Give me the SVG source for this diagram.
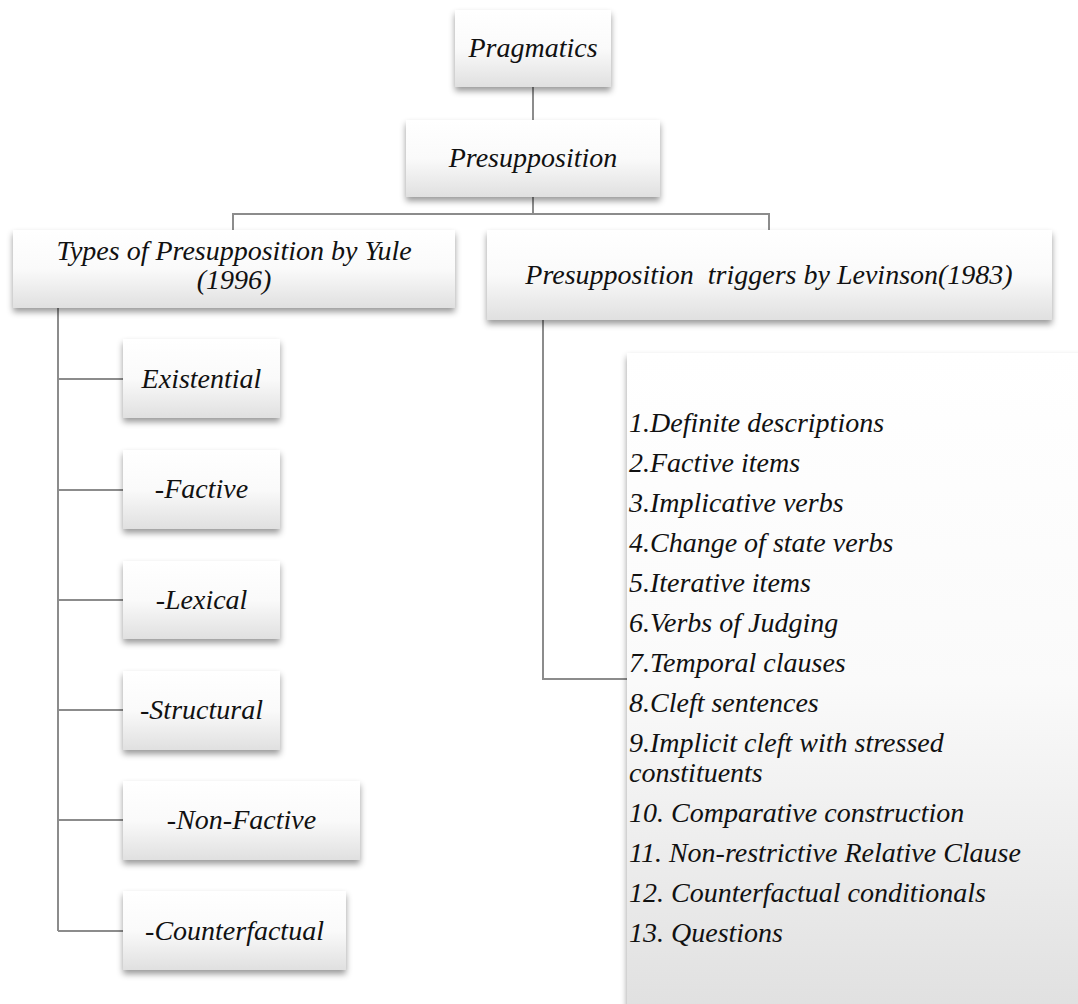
<svg xmlns="http://www.w3.org/2000/svg" width="1078" height="1004" viewBox="0 0 1078 1004">
<style>
  .box { fill: url(#g); filter: url(#sh); }
  .conn { fill: none; stroke: #8c8c8c; stroke-width: 2; }
  .t { font-family: 'Liberation Serif', 'Times New Roman', serif; font-style: italic; font-size: 28px; fill: #111; }
  .c { text-anchor: middle; }
</style>
<defs>
  <linearGradient id="g" x1="0" y1="0" x2="0" y2="1">
    <stop offset="0" stop-color="#ffffff"/>
    <stop offset="0.5" stop-color="#fafafa"/>
    <stop offset="1" stop-color="#e0e0e0"/>
  </linearGradient>
  <filter id="sh" x="-10%" y="-10%" width="120%" height="130%">
    <feDropShadow dx="0" dy="4" stdDeviation="3" flood-color="#000" flood-opacity="0.4"/>
  </filter>
</defs>
<rect width="1078" height="1004" fill="#fff"/>

<g id="connectors">
  <path class="conn" d="M533 87 V120"/>
  <path class="conn" d="M533 197 V214 M233 230 V214 H769 V230"/>
  <path class="conn" d="M58 308 V931 M58 379 H123 M58 490 H123 M58 600 H123 M58 710 H123 M58 820 H123 M58 931 H123"/>
  <path class="conn" d="M543 320 V679 H627"/>
</g>

<g id="pragmatics">
  <rect class="box" x="455" y="10" width="156" height="77"/>
  <text class="t c" x="533" y="57">Pragmatics</text>
</g>
<g id="presupposition">
  <rect class="box" x="406" y="120" width="254" height="77"/>
  <text class="t c" x="533" y="167">Presupposition</text>
</g>
<g id="types-yule">
  <rect class="box" x="13" y="230" width="442" height="78"/>
  <text class="t c" x="234" y="260">Types of Presupposition by Yule</text>
  <text class="t c" x="234" y="289">(1996)</text>
</g>
<g id="triggers-levinson">
  <rect class="box" x="487" y="230" width="565" height="90"/>
  <text class="t c" x="769" y="284" style="white-space:pre">Presupposition  triggers by Levinson(1983)</text>
</g>

<g id="existential">
  <rect class="box" x="123" y="339" width="157" height="79"/>
  <text class="t c" x="201.5" y="388">Existential</text>
</g>
<g id="factive">
  <rect class="box" x="123" y="450" width="157" height="79"/>
  <text class="t c" x="201.5" y="498">-Factive</text>
</g>
<g id="lexical">
  <rect class="box" x="123" y="561" width="157" height="78"/>
  <text class="t c" x="201.5" y="609">-Lexical</text>
</g>
<g id="structural">
  <rect class="box" x="123" y="671" width="157" height="79"/>
  <text class="t c" x="201.5" y="719">-Structural</text>
</g>
<g id="non-factive">
  <rect class="box" x="123" y="781" width="237" height="79"/>
  <text class="t c" x="241.5" y="829">-Non-Factive</text>
</g>
<g id="counterfactual">
  <rect class="box" x="123" y="891" width="223" height="79"/>
  <text class="t c" x="234.5" y="940">-Counterfactual</text>
</g>

<g id="trigger-list">
  <rect class="box" x="627" y="353" width="460" height="660"/>
  <text class="t" x="629" y="432">1.Definite descriptions</text>
  <text class="t" x="629" y="472">2.Factive items</text>
  <text class="t" x="629" y="512">3.Implicative verbs</text>
  <text class="t" x="629" y="552">4.Change of state verbs</text>
  <text class="t" x="629" y="592">5.Iterative items</text>
  <text class="t" x="629" y="632">6.Verbs of Judging</text>
  <text class="t" x="629" y="672">7.Temporal clauses</text>
  <text class="t" x="629" y="712">8.Cleft sentences</text>
  <text class="t" x="629" y="752">9.Implicit cleft with stressed</text>
  <text class="t" x="629" y="782">constituents</text>
  <text class="t" x="629" y="822">10. Comparative construction</text>
  <text class="t" x="629" y="862">11. Non-restrictive Relative Clause</text>
  <text class="t" x="629" y="902">12. Counterfactual conditionals</text>
  <text class="t" x="629" y="942">13. Questions</text>
</g>
</svg>
